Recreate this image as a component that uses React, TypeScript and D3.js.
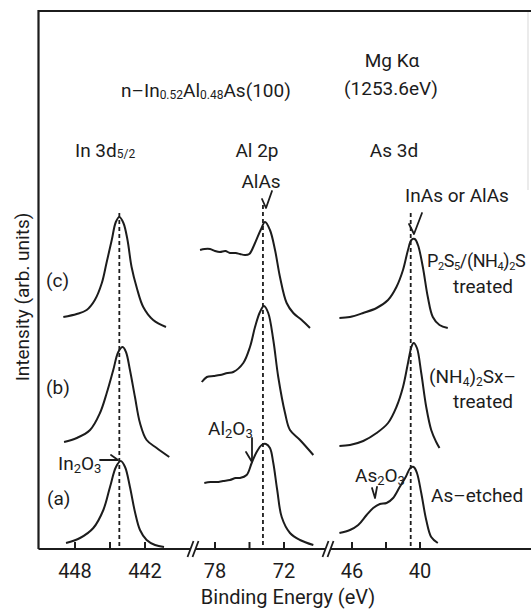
import React, { useEffect, useRef } from 'react';
import * as d3 from 'd3';

// binding energy (eV) / intensity (arb. units)
const inC = [[449.0, 232], [447.85, 235], [447.0, 239], [446.3, 249], [445.7, 266], [445.3, 286], [444.85, 309], [444.5, 327], [444.2, 332], [443.85, 326], [443.5, 309], [443.15, 282], [442.7, 261], [442.15, 242], [441.3, 229], [440.2, 222]];
const inB = [[448.94, 107], [447.85, 111], [446.71, 119], [445.86, 136], [445.28, 156], [444.72, 179], [444.29, 197], [443.91, 202], [443.63, 197], [443.29, 179], [442.86, 152], [442.43, 126], [441.86, 109], [441.0, 101], [439.92, 92]];
const inA = [[448.77, 6], [447.57, 11], [446.43, 21], [445.57, 39], [445.0, 62], [444.49, 82], [444.08, 88], [443.71, 82], [443.29, 62], [442.86, 37], [442.43, 19], [441.86, 9], [441.14, 4], [440.37, 2]];

const alC = [[79.3, 299], [78.9, 300], [78.43, 300], [78.0, 298], [77.57, 297], [77.1, 298], [76.7, 296], [76.2, 296], [75.83, 295], [75.4, 294], [75.02, 295], [74.52, 306], [74.03, 319], [73.65, 327], [73.22, 319], [72.78, 299], [72.35, 272], [71.77, 246], [71.19, 236], [70.46, 229], [69.74, 221]];
const alB = [[79.15, 167], [78.71, 172], [78.1, 173], [77.57, 174], [76.9, 176], [76.41, 177], [75.54, 186], [74.96, 202], [74.52, 222], [74.09, 237], [73.74, 243], [73.37, 236], [72.93, 209], [72.5, 172], [71.91, 136], [71.48, 119], [70.61, 109], [69.45, 94]];
const alA = [[78.93, 66], [78.4, 67], [77.85, 67], [77.3, 68], [76.7, 69], [76.2, 71], [75.83, 71], [75.25, 74], [74.81, 86], [74.38, 97], [73.94, 104], [73.57, 105], [73.22, 101], [72.93, 86], [72.59, 59], [72.2, 32], [71.48, 16], [70.61, 9], [69.45, 4]];

const asC = [[47.11, 231], [46.18, 232], [45.01, 236], [43.83, 241], [42.82, 249], [42.08, 262], [41.5, 279], [41.06, 299], [40.76, 309], [40.47, 310], [40.18, 304], [39.75, 282], [39.31, 252], [38.87, 232], [38.28, 224], [37.55, 221]];
const asB = [[47.11, 103], [46.18, 104], [45.01, 108], [43.83, 116], [42.82, 126], [42.08, 142], [41.5, 162], [41.06, 186], [40.76, 202], [40.56, 206], [40.27, 201], [39.89, 176], [39.45, 142], [39.01, 119], [38.57, 107], [38.28, 101]];
const asA = [[47.11, 16], [46.18, 19], [45.45, 24], [44.71, 34], [44.13, 41], [43.54, 45], [42.95, 46], [42.37, 51], [41.79, 62], [41.26, 72], [40.85, 81], [40.56, 82], [40.27, 76], [39.89, 56], [39.45, 29], [39.01, 12], [38.43, 6]];

const inTicks = [448, 445, 442];
const alTicks = [78, 75, 72];
const asTicks = [46, 43, 40];
const inLabels = [448, 442];
const alLabels = [78, 72];
const asLabels = [46, 40];

const peakIn = 444.2;
const peakAl = 73.83;
const peakAs = 40.82;

const FONT = 'Roboto, "DejaVu Sans", sans-serif';
const INK = '#1c1c1c';

const App = () => {
  const ref = useRef(null);

  useEffect(() => {
    const svg = d3.select(ref.current);
    svg.selectAll('*').remove();

    const axisY = 549;
    const y = d3.scaleLinear().domain([0, 340]).range([axisY, 209]);
    const xIn = d3.scaleLinear().domain([448, 442]).range([75, 145]);
    const xAl = d3.scaleLinear().domain([78, 72]).range([215, 284]);
    const xAs = d3.scaleLinear().domain([46, 40]).range([352, 420]);

    // frame
    svg.append('path')
      .attr('d', `M38.5,${axisY} L38.5,11 L531,11`)
      .attr('fill', 'none').attr('stroke', INK).attr('stroke-width', 2.2);
    svg.append('line')
      .attr('x1', 528).attr('x2', 528).attr('y1', 12).attr('y2', 190)
      .attr('stroke', '#e4e4e4').attr('stroke-width', 1.5);

    // bottom axis
    svg.append('line')
      .attr('x1', 38.5).attr('x2', 531).attr('y1', axisY).attr('y2', axisY)
      .attr('stroke', INK).attr('stroke-width', 2.2);

    const panels = [
      { x: xIn, ticks: inTicks, labels: inLabels, curves: [inC, inB, inA], peak: peakIn, top: 213 },
      { x: xAl, ticks: alTicks, labels: alLabels, curves: [alC, alB, alA], peak: peakAl, top: 205 },
      { x: xAs, ticks: asTicks, labels: asLabels, curves: [asC, asB, asA], peak: peakAs, top: 213 },
    ];

    panels.forEach((p) => {
      const g = svg.append('g');
      g.selectAll('line.tick').data(p.ticks).enter().append('line')
        .attr('x1', (d) => p.x(d)).attr('x2', (d) => p.x(d))
        .attr('y1', axisY).attr('y2', axisY - 7)
        .attr('stroke', INK).attr('stroke-width', 2);
      g.selectAll('text.tl').data(p.labels).enter().append('text')
        .attr('x', (d) => p.x(d)).attr('y', 578)
        .attr('text-anchor', 'middle')
        .style('font-family', FONT).style('font-size', '20px').attr('fill', INK)
        .text((d) => d);

      g.append('line')
        .attr('x1', p.x(p.peak)).attr('x2', p.x(p.peak))
        .attr('y1', p.top).attr('y2', axisY)
        .attr('stroke', INK).attr('stroke-width', 1.8)
        .attr('stroke-dasharray', '4,3');

      const line = d3.line()
        .x((d) => p.x(d[0]))
        .y((d) => y(d[1]))
        .curve(d3.curveCatmullRom.alpha(0.5));
      p.curves.forEach((c) => {
        g.append('path').datum(c).attr('d', line)
          .attr('fill', 'none').attr('stroke', INK).attr('stroke-width', 2);
      });
    });

    // axis breaks
    [193, 328].forEach((bx) => {
      svg.append('rect').attr('x', bx - 3).attr('y', axisY - 2).attr('width', 6).attr('height', 4).attr('fill', '#fff');
      [-2.5, 2.5].forEach((o) => {
        svg.append('line')
          .attr('x1', bx + o - 3).attr('x2', bx + o + 3)
          .attr('y1', axisY + 8).attr('y2', axisY - 8)
          .attr('stroke', INK).attr('stroke-width', 1.8);
      });
    });

    const txt = (x, yy, s, size = 19, anchor = 'start') => svg.append('text')
      .attr('x', x).attr('y', yy).attr('text-anchor', anchor)
      .style('font-family', FONT).style('font-size', `${size}px`).attr('fill', INK)
      .text(s);

    // title
    const title = txt(121, 97, '', 19);
    title.append('tspan').text('n–In');
    title.append('tspan').attr('dy', 2).style('font-size', '12px').text('0.52');
    title.append('tspan').attr('dy', -2).text('Al');
    title.append('tspan').attr('dy', 2).style('font-size', '12px').text('0.48');
    title.append('tspan').attr('dy', -2).text('As(100)');

    txt(392, 67, 'Mg  Kα', 19, 'middle');
    txt(391, 95, '(1253.6eV)', 19, 'middle');

    const in3d = txt(75, 157, 'In 3d', 19);
    in3d.append('tspan').attr('dy', 1).style('font-size', '12px').text('5/2');
    txt(257, 157, 'Al  2p', 19, 'middle');
    txt(394, 157, 'As 3d', 19, 'middle');
    txt(261, 188, 'AlAs', 19, 'middle');
    txt(457, 202, 'InAs or AlAs', 19, 'middle');

    // right side labels
    const p2s5 = txt(427, 267, '', 18).style('letter-spacing', '-0.4px');
    p2s5.append('tspan').text('P');
    p2s5.append('tspan').attr('dy', 3).style('font-size', '11px').text('2');
    p2s5.append('tspan').attr('dy', -3).text('S');
    p2s5.append('tspan').attr('dy', 3).style('font-size', '11px').text('5');
    p2s5.append('tspan').attr('dy', -3).text('/(NH');
    p2s5.append('tspan').attr('dy', 3).style('font-size', '11px').text('4');
    p2s5.append('tspan').attr('dy', -3).text(')');
    p2s5.append('tspan').attr('dy', 3).style('font-size', '11px').text('2');
    p2s5.append('tspan').attr('dy', -3).text('S');
    txt(483, 293, 'treated', 19, 'middle');

    const nh4 = txt(429, 383, '', 19);
    nh4.append('tspan').text('(NH');
    nh4.append('tspan').attr('dy', 3).style('font-size', '12px').text('4');
    nh4.append('tspan').attr('dy', -3).text(')');
    nh4.append('tspan').attr('dy', 3).style('font-size', '12px').text('2');
    nh4.append('tspan').attr('dy', -3).text('Sx–');
    txt(483, 408, 'treated', 19, 'middle');
    txt(431, 502, 'As–etched', 19);

    txt(46, 287, '(c)', 19);
    txt(46, 394, '(b)', 19);
    txt(47, 505, '(a)', 19);

    // oxide annotations
    const oxide = (x, yy, el) => {
      const t = txt(x, yy, '', 19);
      t.append('tspan').text(el);
      t.append('tspan').attr('dy', 3).style('font-size', '13px').text('2');
      t.append('tspan').attr('dy', -3).text('O');
      t.append('tspan').attr('dy', 3).style('font-size', '13px').text('3');
    };
    oxide(58, 470, 'In');
    oxide(208, 435, 'Al');
    oxide(355, 482, 'As');

    const arrow = (d) => svg.append('path').attr('d', d)
      .attr('fill', 'none').attr('stroke', INK).attr('stroke-width', 1.8)
      .attr('stroke-linejoin', 'round').attr('stroke-linecap', 'round');
    arrow('M262,199 L266,208 L272,191');
    arrow('M409,224 L414,234 L422,213');
    arrow('M100,460 L118,460 M111,455 L118,460');
    arrow('M252,438 L252,462 M246,452 L252,462');
    arrow('M372,488 L375,498 L377,487');

    // axis titles
    txt(288, 604, 'Binding  Energy  (eV)', 20, 'middle');
    svg.append('text')
      .attr('transform', 'translate(29,297) rotate(-90)')
      .attr('text-anchor', 'middle')
      .style('font-family', FONT).style('font-size', '19px').attr('fill', INK)
      .text('Intensity (arb. units)');
  }, []);

  return (
    <svg ref={ref} width={531} height={610}
      style={{ position: 'absolute', left: 0, top: 0, background: '#fff' }} />
  );
};

export default App;
